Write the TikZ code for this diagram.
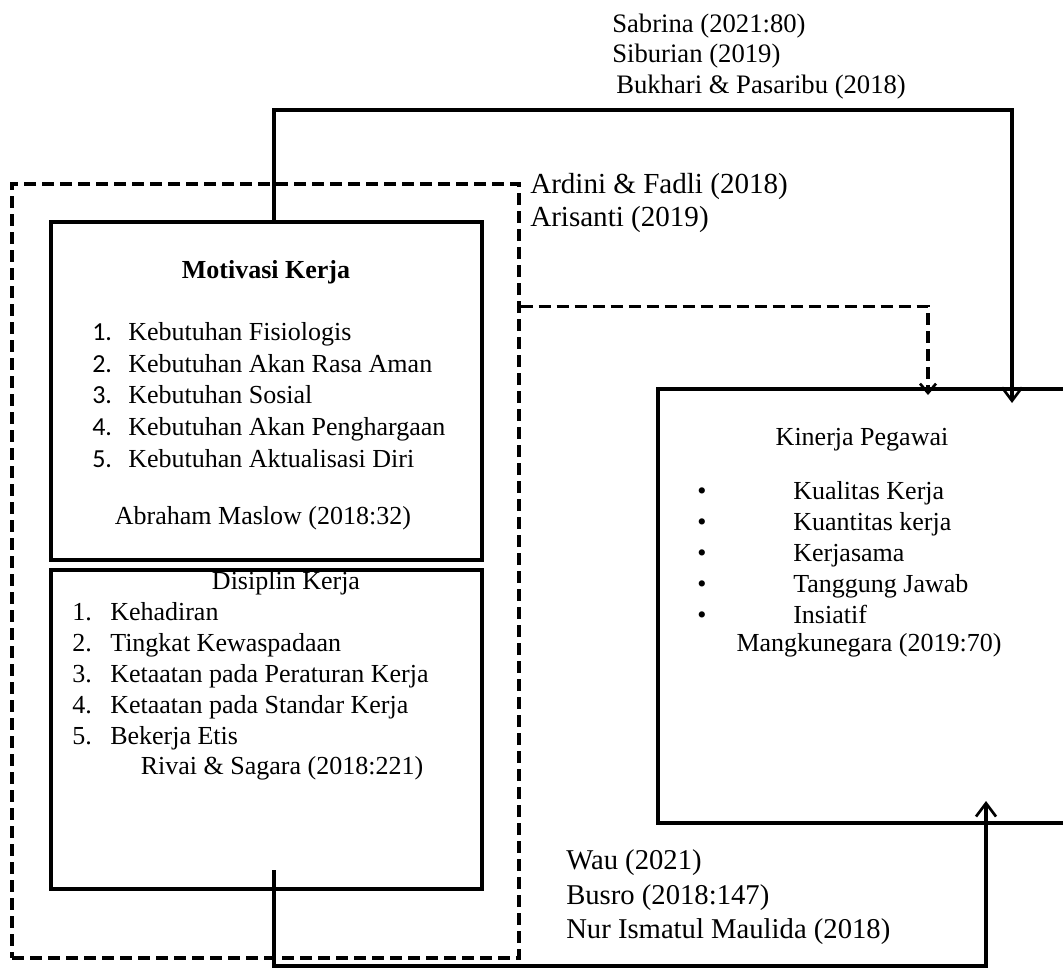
\documentclass[tikz,border=0pt]{standalone}
\usepackage{fontspec}
\setmainfont{Liberation Serif}
\newfontfamily\numfont{Carlito}
\usetikzlibrary{arrows.meta,calc,positioning}
\newcommand\listnum[3]{\makebox[#1][l]{#2}#3}
\tikzset{
  flowarrow/.style={-{Straight Barb[length=10pt,width=15pt,line width=2pt]},line width=2.3pt,draw=black},
  dashflow/.style={-{Straight Barb[length=7pt,width=12pt,line width=2pt]},line width=2.5pt,dash pattern=on 9pt off 4.5pt,draw=black},
  boxbase/.style={draw=black,line width=3pt,inner sep=0pt},
  groupbox/.style={draw=black,line width=2.6pt,dash pattern=on 9pt off 4.5pt,inner sep=0pt},
  txt/.style={inner sep=0pt,align=left,font=\fontsize{19.5}{23.25}\selectfont},
  reftxt/.style={inner sep=0pt,align=left,anchor=west},
}

\begin{document}
\begin{tikzpicture}[x=0.75pt,y=-0.75pt]
    \useasboundingbox (0,0) rectangle (1063,972);

    % boxes
    \node[groupbox,minimum width=380.25pt,minimum height=580.5pt] (group) at (265.5,571) {};
    \node[boxbase,minimum width=323.25pt,minimum height=253.5pt] (motivasi) at (266.5,391) {};
    \node[boxbase,minimum width=323.25pt,minimum height=239.25pt] (disiplin) at (266.5,729.5) {};
    \node[boxbase,minimum width=324pt,minimum height=325.5pt] (kinerja) at (874,606) {};

    % motivasi kerja
    \node[txt,font=\fontsize{19.5}{23.25}\selectfont\bfseries] (motivasititle) at (266,272) {Motivasi Kerja};
    \node[txt,anchor=west] (motivasilist) at (92,395) {%
      \listnum{27pt}{\numfont 1.}{Kebutuhan Fisiologis}\\[0.6pt]
      \listnum{27pt}{\numfont 2.}{Kebutuhan Akan Rasa Aman}\\[0.6pt]
      \listnum{27pt}{\numfont 3.}{Kebutuhan Sosial}\\[0.6pt]
      \listnum{27pt}{\numfont 4.}{Kebutuhan Akan Penghargaan}\\[0.6pt]
      \listnum{27pt}{\numfont 5.}{Kebutuhan Aktualisasi Diri}};
    \node[txt] (maslow) at (263,518) {Abraham Maslow (2018:32)};

    % disiplin kerja
    \node[txt] (disiplintitle) at (286,583) {Disiplin Kerja};
    \node[txt,anchor=west] (disiplinlist) at (72,676.5) {%
      \listnum{28.5pt}{1.}{Kehadiran}\\
      \listnum{28.5pt}{2.}{Tingkat Kewaspadaan}\\
      \listnum{28.5pt}{3.}{Ketaatan pada Peraturan Kerja}\\
      \listnum{28.5pt}{4.}{Ketaatan pada Standar Kerja}\\
      \listnum{28.5pt}{5.}{Bekerja Etis}};
    \node[txt] (rivai) at (282,768) {Rivai \& Sagara (2018:221)};

    % kinerja pegawai
    \node[txt] (kinerjatitle) at (862,440) {Kinerja Pegawai};
    \node[txt,anchor=west] (kinerjalist) at (697,552.5) {%
      \listnum{72pt}{\textbullet}{Kualitas Kerja}\\
      \listnum{72pt}{\textbullet}{Kuantitas kerja}\\
      \listnum{72pt}{\textbullet}{Kerjasama}\\
      \listnum{72pt}{\textbullet}{Tanggung Jawab}\\
      \listnum{72pt}{\textbullet}{Insiatif}};
    \node[txt] (mangku) at (869,645) {Mangkunegara (2019:70)};

    % reference labels
    \node[reftxt,font=\fontsize{20}{22.9}\selectfont] (refmotivasi) at (612,56.5)
      {Sabrina (2021:80)\\Siburian (2019)\\\hspace*{3pt}Bukhari \& Pasaribu (2018)};
    \node[reftxt,font=\fontsize{21.8}{24.75}\selectfont] (refgroup) at (530,203.5)
      {Ardini \& Fadli (2018)\\Arisanti (2019)};
    \node[reftxt,font=\fontsize{21.5}{25.9}\selectfont] (refdisiplin) at (566,897.5)
      {Wau (2021)\\Busro (2018:147)\\Nur Ismatul Maulida (2018)};

    % connectors
    \draw[flowarrow,shorten >=-12pt] ([xshift=5.6pt]motivasi.north) -- ++(0,-110) -| ([xshift=103.5pt]kinerja.north);
    \draw[dashflow,shorten >=-6pt] ([yshift=-93pt]group.north east) -| ([xshift=40.5pt]kinerja.north);
    \draw[flowarrow,shorten >=-18pt] ([xshift=5.6pt,yshift=15.75pt]disiplin.south) -- ++(0,96) -| ([xshift=84pt]kinerja.south);
\end{tikzpicture}
\end{document}
